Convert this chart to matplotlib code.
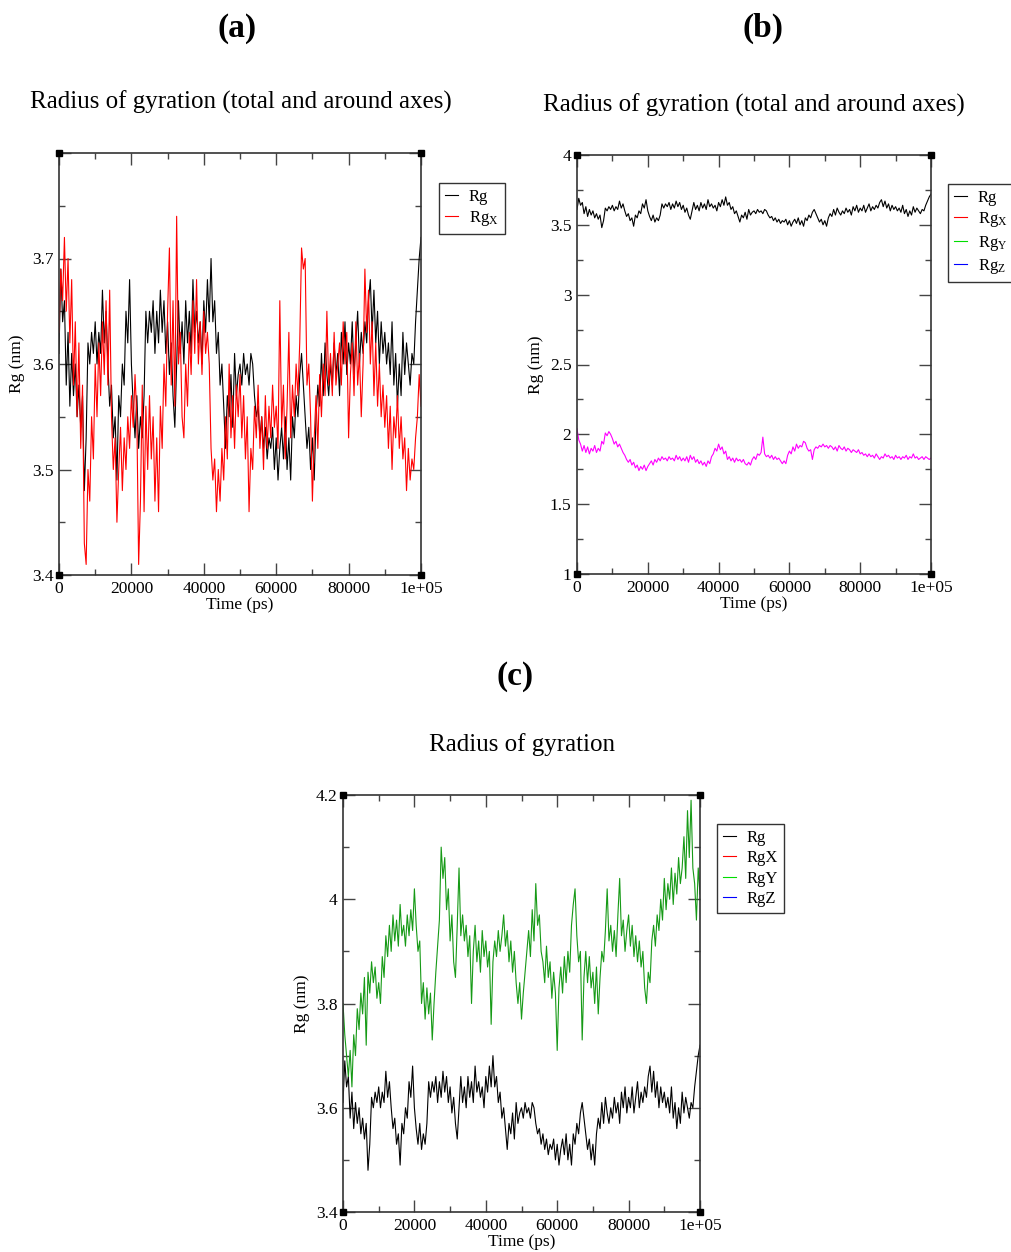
import numpy as np
import matplotlib
matplotlib.use("Agg")
import matplotlib.pyplot as plt
from matplotlib.lines import Line2D

plt.rcParams['font.family'] = ['Liberation Serif', 'DejaVu Serif']
plt.rcParams['mathtext.fontset'] = 'custom'
plt.rcParams['mathtext.rm'] = 'Liberation Serif'
plt.rcParams['mathtext.it'] = 'Liberation Serif:italic'

# ---------------- data (500 ps sampling) ----------------
rg_total = [
    3.61, 3.69, 3.64, 3.66, 3.58, 3.63, 3.56, 3.61, 3.57, 3.60,
    3.55, 3.58, 3.54, 3.57, 3.48, 3.53, 3.62, 3.60, 3.63, 3.61,
    3.64, 3.60, 3.63, 3.61, 3.67, 3.62, 3.65, 3.60, 3.56, 3.58,
    3.53, 3.55, 3.49, 3.57, 3.55, 3.60, 3.58, 3.65, 3.62, 3.68,
    3.60, 3.56, 3.53, 3.57, 3.52, 3.55, 3.53, 3.57, 3.65, 3.62,
    3.65, 3.63, 3.66, 3.61, 3.65, 3.62, 3.67, 3.63, 3.66, 3.61,
    3.64, 3.59, 3.62, 3.57, 3.54, 3.60, 3.66, 3.61, 3.64, 3.60,
    3.66, 3.62, 3.65, 3.61, 3.68, 3.63, 3.65, 3.62, 3.64, 3.60,
    3.66, 3.63, 3.68, 3.64, 3.70, 3.64, 3.66, 3.61, 3.63, 3.58,
    3.60, 3.56, 3.52, 3.57, 3.55, 3.59, 3.54, 3.61, 3.57, 3.59,
    3.60, 3.58, 3.61, 3.59, 3.60, 3.58, 3.61, 3.60, 3.57, 3.55,
    3.56, 3.53, 3.55, 3.52, 3.54, 3.51, 3.53, 3.52, 3.54, 3.50,
    3.53, 3.49, 3.52, 3.54, 3.51, 3.55, 3.50, 3.53, 3.49, 3.55,
    3.53, 3.57, 3.55, 3.59, 3.61, 3.58, 3.55, 3.52, 3.54, 3.50,
    3.53, 3.49, 3.55, 3.58, 3.56, 3.61, 3.57, 3.62, 3.59, 3.57,
    3.60, 3.58, 3.62, 3.59, 3.61, 3.57, 3.63, 3.60, 3.64, 3.59,
    3.62, 3.60, 3.64, 3.59, 3.62, 3.65, 3.60, 3.63, 3.61, 3.64,
    3.62, 3.66, 3.68, 3.63, 3.67, 3.62, 3.65, 3.60, 3.64, 3.61,
    3.63, 3.60, 3.62, 3.59, 3.64, 3.58, 3.61, 3.56, 3.60, 3.57,
    3.63, 3.59, 3.62, 3.60, 3.58, 3.61, 3.60, 3.64, 3.67, 3.70,
    3.72,
]

rg_x = [
    3.63, 3.69, 3.66, 3.72, 3.65, 3.70, 3.62, 3.68, 3.58, 3.64,
    3.55, 3.62, 3.52, 3.58, 3.43, 3.41, 3.50, 3.47, 3.55, 3.51,
    3.60, 3.55, 3.62, 3.57, 3.64, 3.59, 3.66, 3.58, 3.67, 3.55,
    3.50, 3.53, 3.45, 3.50, 3.54, 3.48, 3.53, 3.50, 3.55, 3.52,
    3.57, 3.54, 3.59, 3.55, 3.41, 3.47, 3.58, 3.46, 3.56, 3.50,
    3.57, 3.51, 3.55, 3.47, 3.53, 3.46, 3.56, 3.52, 3.60, 3.56,
    3.65, 3.71, 3.58, 3.66, 3.56, 3.74, 3.60, 3.63, 3.55, 3.53,
    3.60, 3.56, 3.63, 3.59, 3.66, 3.61, 3.68, 3.60, 3.64, 3.59,
    3.65, 3.61, 3.63, 3.60, 3.52, 3.49, 3.51, 3.46, 3.50, 3.47,
    3.52, 3.49, 3.55, 3.51, 3.60, 3.53, 3.57, 3.52, 3.58, 3.55,
    3.59, 3.53, 3.57, 3.51, 3.55, 3.46, 3.52, 3.50, 3.56, 3.53,
    3.58, 3.52, 3.55, 3.50, 3.57, 3.52, 3.56, 3.53, 3.58, 3.54,
    3.56, 3.52, 3.66, 3.54, 3.58, 3.51, 3.56, 3.63, 3.53, 3.58,
    3.55, 3.60, 3.57, 3.62, 3.71, 3.69, 3.70, 3.58, 3.60, 3.55,
    3.47, 3.53, 3.57, 3.52, 3.59, 3.55, 3.60, 3.57, 3.65, 3.58,
    3.61, 3.57, 3.63, 3.58, 3.60, 3.62, 3.58, 3.64, 3.60, 3.63,
    3.53, 3.59, 3.62, 3.57, 3.64, 3.58, 3.61, 3.55, 3.60, 3.69,
    3.63, 3.67, 3.60, 3.64, 3.57, 3.62, 3.56, 3.60, 3.55, 3.58,
    3.54, 3.57, 3.52, 3.56, 3.50, 3.55, 3.53, 3.57, 3.52, 3.55,
    3.51, 3.53, 3.48, 3.52, 3.49, 3.51, 3.50, 3.53, 3.55, 3.59,
    3.56,
]

rg_axes_b = [
    2.04, 1.96, 1.93, 1.88, 1.92, 1.87, 1.91, 1.86, 1.90, 1.88,
    1.92, 1.87, 1.90, 1.88, 1.95, 1.93, 2.01, 1.99, 2.02, 2.00,
    1.97, 1.93, 1.95, 1.91, 1.93, 1.90, 1.87, 1.85, 1.82, 1.80,
    1.82, 1.78, 1.80, 1.76, 1.78, 1.74, 1.77, 1.75, 1.78, 1.74,
    1.77, 1.79, 1.81, 1.78, 1.82, 1.80, 1.83, 1.81, 1.84, 1.82,
    1.83, 1.81, 1.84, 1.82, 1.83, 1.81, 1.85, 1.82, 1.84, 1.81,
    1.83, 1.81, 1.84, 1.80, 1.85, 1.82, 1.84, 1.80, 1.82, 1.79,
    1.81, 1.78, 1.80, 1.77, 1.81, 1.79, 1.84, 1.86, 1.90, 1.88,
    1.93, 1.89, 1.91, 1.86, 1.88, 1.82, 1.84, 1.81, 1.83, 1.80,
    1.83, 1.81, 1.82, 1.80, 1.82, 1.79, 1.78, 1.80, 1.78, 1.82,
    1.84, 1.82, 1.86, 1.85, 1.87, 1.98, 1.86, 1.84, 1.85, 1.83,
    1.85, 1.82, 1.84, 1.82, 1.83, 1.81, 1.79, 1.81, 1.79, 1.85,
    1.88, 1.86, 1.91, 1.88, 1.93, 1.90, 1.92, 1.91, 1.95, 1.94,
    1.90, 1.88, 1.89, 1.82, 1.89, 1.91, 1.90, 1.92, 1.91, 1.93,
    1.91, 1.92, 1.90, 1.92, 1.91, 1.89, 1.91, 1.88, 1.92, 1.90,
    1.89, 1.91, 1.88, 1.90, 1.89, 1.87, 1.89, 1.88, 1.87, 1.89,
    1.86, 1.87, 1.85, 1.86, 1.84, 1.86, 1.84, 1.85, 1.83, 1.86,
    1.84, 1.82, 1.84, 1.83, 1.86, 1.84, 1.85, 1.83, 1.84, 1.82,
    1.85, 1.83, 1.84, 1.82, 1.84, 1.83, 1.85, 1.82, 1.84, 1.83,
    1.86, 1.83, 1.84, 1.82, 1.83, 1.84, 1.82, 1.84, 1.83, 1.82,
    1.83,
]

rg_y = [
    3.80, 3.74, 3.70, 3.66, 3.71, 3.64, 3.74, 3.70, 3.79, 3.75,
    3.82, 3.78, 3.85, 3.72, 3.86, 3.82, 3.88, 3.84, 3.87, 3.81,
    3.84, 3.80, 3.89, 3.85, 3.93, 3.89, 3.95, 3.90, 3.97, 3.92,
    3.96, 3.91, 3.99, 3.93, 3.95, 3.91, 3.97, 3.93, 3.98, 3.94,
    4.02, 3.95, 3.90, 3.92, 3.80, 3.84, 3.77, 3.83, 3.78, 3.82,
    3.73, 3.80, 3.86, 3.91, 3.96, 4.10, 4.04, 4.08, 3.98, 4.02,
    3.92, 3.97, 3.88, 3.85, 3.95, 4.06, 3.93, 3.97, 3.92, 3.95,
    3.89, 3.93, 3.80, 3.90, 3.95, 3.88, 3.92, 3.86, 3.94, 3.89,
    3.92, 3.87, 3.90, 3.76, 3.88, 3.92, 3.89, 3.94, 3.90, 3.93,
    3.97, 3.91, 3.94, 3.88, 3.92, 3.86, 3.90, 3.84, 3.80, 3.84,
    3.77, 3.82, 3.86, 3.90, 3.94, 3.89, 3.98, 3.92, 4.03, 3.95,
    3.97, 3.90, 3.88, 3.84, 3.91, 3.85, 3.88, 3.81, 3.86, 3.82,
    3.71, 3.83, 3.87, 3.82, 3.89, 3.84, 3.90, 3.86, 3.95, 3.99,
    4.02, 3.93, 3.88, 3.90, 3.73, 3.85, 3.90, 3.84, 3.89, 3.83,
    3.86, 3.80, 3.87, 3.78, 3.85, 3.90, 3.88, 3.94, 4.02, 3.92,
    3.95, 3.90, 3.94, 3.89, 3.97, 4.04, 3.93, 3.96, 3.90, 3.94,
    3.97, 3.91, 3.95, 3.89, 3.93, 3.88, 3.92, 3.87, 3.90, 3.83,
    3.80, 3.86, 3.84, 3.92, 3.95, 3.91, 3.97, 3.94, 4.00, 3.96,
    4.04, 3.98, 4.03, 4.00, 4.06, 3.99, 4.05, 4.01, 4.08, 4.03,
    4.06, 4.12, 4.04, 4.17, 4.08, 4.19, 4.06, 4.03, 3.96, 4.06,
    4.01,
]

time_ps = np.linspace(0, 100000, len(rg_total))

x_ticks = [0, 20000, 40000, 60000, 80000, 100000]
x_labels = ["0", "20000", "40000", "60000", "80000", "1e+05"]
ya_ticks = [3.4, 3.5, 3.6, 3.7, 3.8]
ya_labels = ["3.4", "3.5", "3.6", "3.7", ""]
yb_ticks = [1, 1.5, 2, 2.5, 3, 3.5, 4]
yb_labels = ["1", "1.5", "2", "2.5", "3", "3.5", "4"]
yc_ticks = [3.4, 3.6, 3.8, 4.0, 4.2]
yc_labels = ["3.4", "3.6", "3.8", "4", "4.2"]

# ---------------- figure ----------------
W, H = 1012, 1252
fig = plt.figure(figsize=(W / 100, H / 100), dpi=100)
fig.patch.set_facecolor("white")


def make_axes(l, r, t, b):
    return fig.add_axes([l / W, 1 - b / H, (r - l) / W, (b - t) / H])


def style(ax, yticks, ylabels, yminor, ylim):
    ax.set_xlim(0, 100000)
    ax.set_ylim(*ylim)
    ax.set_xticks(x_ticks, x_labels)
    ax.set_xticks(np.arange(10000, 100000, 20000), minor=True)
    ax.set_yticks(yticks, ylabels)
    ax.set_yticks(yminor, minor=True)
    ax.tick_params(which="both", direction="in", top=True, right=True,
                   labelsize=12.5, color="#444444", width=1.0)
    ax.tick_params(which="major", length=8.5, pad=4)
    ax.tick_params(which="minor", length=4.3)
    for s in ax.spines.values():
        s.set_color("#333333")
        s.set_linewidth(1.2)
    ax.set_xlabel("Time (ps)", fontsize=12.5)
    ax.set_ylabel("Rg (nm)", fontsize=12.5)
    ax.xaxis.set_label_coords(0.5, -0.052)
    ax.yaxis.set_label_coords(-0.093, 0.5)
    ax.plot([0, 1, 0, 1], [0, 0, 1, 1], "s", color="black", ms=5,
            transform=ax.transAxes, clip_on=False, zorder=5)


leg_kw = dict(fontsize=12, frameon=True, fancybox=False, edgecolor="#333333",
              framealpha=1, handlelength=0.8, handletextpad=0.65,
              borderpad=0.35, labelspacing=0.27, borderaxespad=0,
              bbox_transform=fig.transFigure, loc="upper left")

# ---- panel (a)
axa = make_axes(59, 421, 153, 575)
la1, = axa.plot(time_ps, rg_total, color="black", lw=0.8, label="Rg")
la2, = axa.plot(time_ps, rg_x, color="red", lw=0.8, label=r"Rg$_{\mathrm{X}}$")
style(axa, ya_ticks, ya_labels, np.arange(3.45, 3.8, 0.1), (3.4, 3.8))
leg = axa.legend(handles=[la1, la2], bbox_to_anchor=(439 / W, 1 - 183 / H), **leg_kw)
leg.get_frame().set_linewidth(1.0)

# ---- panel (b)
axb = make_axes(577, 931, 155, 574)
lb1, = axb.plot(time_ps, rg_total, color="black", lw=0.8, label="Rg")
axb.plot(time_ps, rg_axes_b, color="#ff00ff", lw=0.8)
style(axb, yb_ticks, yb_labels, np.arange(1.25, 4.0, 0.5), (1, 4))
hb = [lb1,
      Line2D([], [], color="red", lw=0.8, label=r"Rg$_{\mathrm{X}}$"),
      Line2D([], [], color="#00dd00", lw=0.8, label=r"Rg$_{\mathrm{Y}}$"),
      Line2D([], [], color="blue", lw=0.8, label=r"Rg$_{\mathrm{Z}}$")]
leg = axb.legend(handles=hb, bbox_to_anchor=(948 / W, 1 - 184 / H), **leg_kw)
leg.get_frame().set_linewidth(1.0)

# ---- panel (c)
axc = make_axes(343, 700, 795, 1212)
lc1, = axc.plot(time_ps, rg_total, color="black", lw=0.8, label="Rg")
axc.plot(time_ps, rg_y, color="#169a16", lw=0.8)
style(axc, yc_ticks, yc_labels, np.arange(3.5, 4.2, 0.2), (3.4, 4.2))
hc = [lc1,
      Line2D([], [], color="red", lw=0.8, label="RgX"),
      Line2D([], [], color="#00dd00", lw=0.8, label="RgY"),
      Line2D([], [], color="blue", lw=0.8, label="RgZ")]
leg = axc.legend(handles=hc, bbox_to_anchor=(717 / W, 1 - 824 / H), **leg_kw)
leg.get_frame().set_linewidth(1.0)

# ---- titles and panel letters
fig.text(241 / W, 1 - 102 / H, "Radius of gyration (total and around axes)",
         ha="center", va="center", fontsize=18)
fig.text(754 / W, 1 - 105 / H, "Radius of gyration (total and around axes)",
         ha="center", va="center", fontsize=18)
fig.text(522 / W, 1 - 745 / H, "Radius of gyration",
         ha="center", va="center", fontsize=18)
fig.text(237 / W, 1 - 28 / H, "(a)", ha="center", va="center", fontsize=24, fontweight="bold")
fig.text(763 / W, 1 - 28 / H, "(b)", ha="center", va="center", fontsize=24, fontweight="bold")
fig.text(515 / W, 1 - 677 / H, "(c)", ha="center", va="center", fontsize=24, fontweight="bold")

fig.savefig("out.png", dpi=100, facecolor="white")
